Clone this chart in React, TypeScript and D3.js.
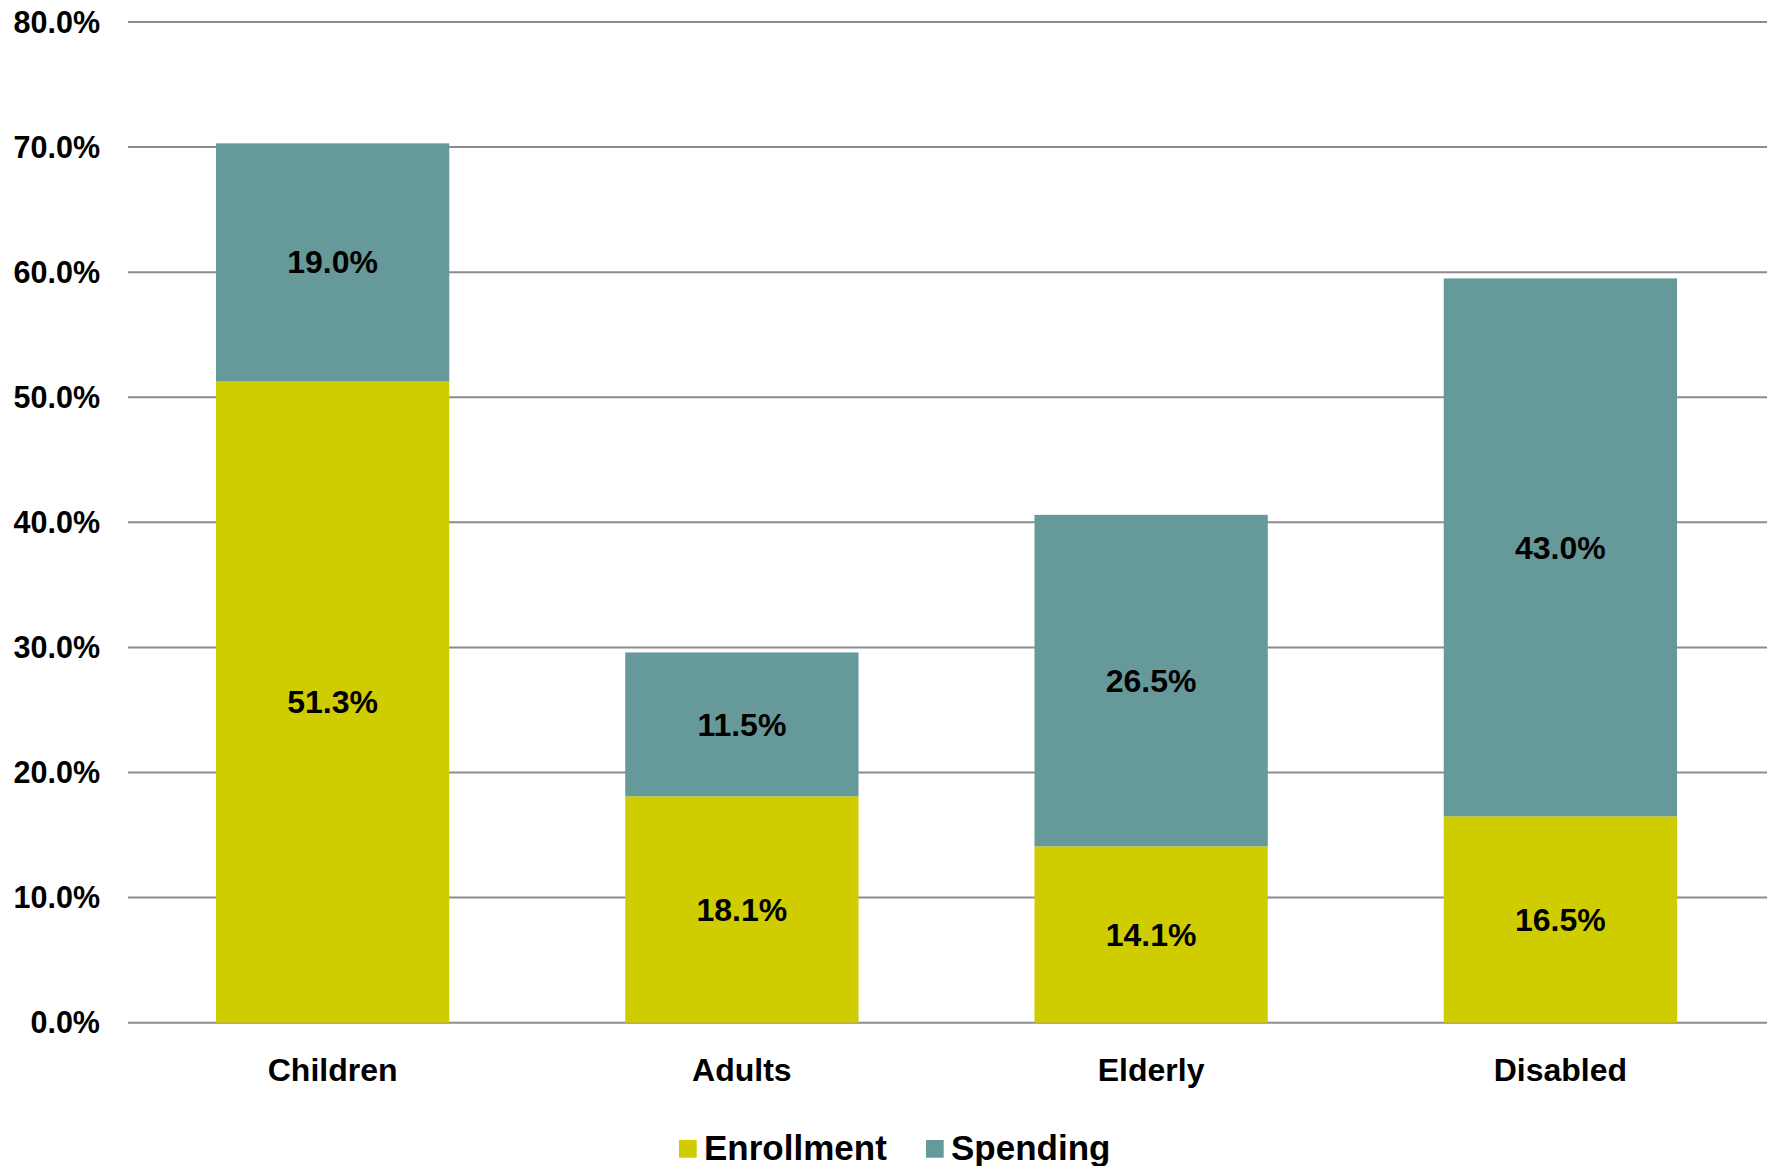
import React from "react";
import * as d3 from "d3";

const categories = ["Children", "Adults", "Elderly", "Disabled"];
const enrollment = [51.3, 18.1, 14.1, 16.5];
const spending = [19.0, 11.5, 26.5, 43.0];
const yTicks = [0, 10, 20, 30, 40, 50, 60, 70, 80];
const seriesNames = ["Enrollment", "Spending"];
const seriesColors = ["#CFCD00", "#669999"];

const W = 1767;
const H = 1166;
const FONT = "'Liberation Sans', Arial, sans-serif";

export default function App() {
  const x = d3
    .scaleBand<string>()
    .domain(categories)
    .range([128, 1765])
    .paddingInner(0.43)
    .paddingOuter(0.215);
  const y = d3.scaleLinear().domain([0, 80]).range([1022.7, 22]);
  const fmt = (v: number) => d3.format(".1f")(v) + "%";

  const stacks = categories.map((c, i) => {
    const e = enrollment[i];
    const s = spending[i];
    return [
      { key: "e", y0: 0, y1: e, v: e, color: seriesColors[0] },
      { key: "s", y0: e, y1: e + s, v: s, color: seriesColors[1] },
    ];
  });

  return (
    <svg
      width={W}
      height={H}
      style={{ position: "absolute", left: 0, top: 0, background: "#fff" }}
      fontFamily={FONT}
    >
      {yTicks.map((t) => (
        <line
          key={t}
          x1={128}
          x2={W}
          y1={y(t)}
          y2={y(t)}
          stroke="#8c8c8c"
          strokeWidth={2}
        />
      ))}
      {yTicks.map((t) => (
        <text
          key={"l" + t}
          x={100}
          y={y(t)}
          dy="0.35em"
          textAnchor="end"
          fontSize={30.5}
          fontWeight="bold"
          fill="#000"
        >
          {fmt(t)}
        </text>
      ))}
      {categories.map((c, i) =>
        stacks[i].map((seg) => (
          <rect
            key={c + seg.key}
            x={x(c)}
            width={x.bandwidth()}
            y={y(seg.y1)}
            height={y(seg.y0) - y(seg.y1)}
            fill={seg.color}
          />
        ))
      )}
      {categories.map((c, i) =>
        stacks[i].map((seg) => (
          <text
            key={"d" + c + seg.key}
            x={(x(c) as number) + x.bandwidth() / 2}
            y={y((seg.y0 + seg.y1) / 2)}
            dy="0.35em"
            textAnchor="middle"
            fontSize={32}
            fontWeight="bold"
            fill="#000"
          >
            {fmt(seg.v)}
          </text>
        ))
      )}
      {categories.map((c) => (
        <text
          key={"c" + c}
          x={(x(c) as number) + x.bandwidth() / 2}
          y={1081}
          textAnchor="middle"
          fontSize={32}
          fontWeight="bold"
          fill="#000"
        >
          {c}
        </text>
      ))}
      {seriesNames.map((n, i) => {
        const lx = [679, 926][i];
        return (
          <g key={"lg" + n}>
            <rect x={lx} y={1140} width={17.7} height={17.7} fill={seriesColors[i]} />
            <text
              x={lx + 25}
              y={1160}
              fontSize={35}
              fontWeight="bold"
              fill="#000"
            >
              {n}
            </text>
          </g>
        );
      })}
    </svg>
  );
}
